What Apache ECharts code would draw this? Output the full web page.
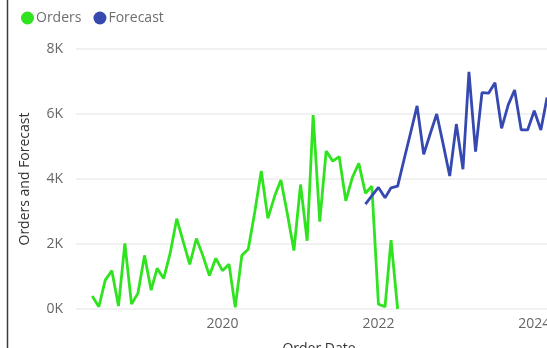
<!DOCTYPE html>
<html>
<head>
<meta charset="utf-8">
<script src="https://cdn.jsdelivr.net/npm/echarts@6/dist/echarts.min.js"></script>
<style>
  html, body { margin: 0; padding: 0; background: #ffffff; }
  #chart { width: 547px; height: 348px; }
</style>
</head>
<body>
<div id="chart"></div>
<script>
// Monthly order totals
const orderMonths = [
  '2018-05','2018-06','2018-07','2018-08','2018-09','2018-10','2018-11','2018-12',
  '2019-01','2019-02','2019-03','2019-04','2019-05','2019-06','2019-07','2019-08','2019-09','2019-10','2019-11','2019-12',
  '2020-01','2020-02','2020-03','2020-04','2020-05','2020-06','2020-07','2020-08','2020-09','2020-10','2020-11','2020-12',
  '2021-01','2021-02','2021-03','2021-04','2021-05','2021-06','2021-07','2021-08','2021-09','2021-10','2021-11','2021-12',
  '2022-01','2022-02','2022-03','2022-04'
];
const orderValues = [
  400, 70, 890, 1180, 90, 2020, 150, 480,
  1650, 580, 1250, 940, 1710, 2780, 2080, 1370, 2170, 1650, 1030, 1560,
  1180, 1380, 50, 1650, 1840, 3000, 4250, 2790, 3460, 3970, 2900, 1800,
  3830, 2100, 5970, 2690, 4860, 4550, 4690, 3330, 4050, 4480, 3560, 3780,
  150, 70, 2120, 0
];

// Forecast months and values
const forecastMonths = [
  '2021-11','2021-12',
  '2022-01','2022-02','2022-03','2022-04','2022-05','2022-06','2022-07','2022-08','2022-09','2022-10','2022-11','2022-12',
  '2023-01','2023-02','2023-03','2023-04','2023-05','2023-06','2023-07','2023-08','2023-09','2023-10','2023-11','2023-12',
  '2024-01','2024-02','2024-03'
];
const forecastValues = [
  3230, 3480,
  3740, 3420, 3730, 3780, 4600, 5430, 6250, 4760, 5400, 6000, 5050, 4090,
  5690, 4300, 7300, 4840, 6660, 6640, 6960, 5560, 6280, 6740, 5510, 5510,
  6100, 5510, 6510
];

// Value axis ticks and labelled years on the date axis
const yTicks = [0, 2000, 4000, 6000, 8000];
const yearLabels = [2020, 2022, 2024];

const FONT = '"Open Sans", "Segoe UI", sans-serif';
const TEXT = '#666666';

const chart = echarts.init(document.getElementById('chart'), null, { renderer: 'canvas' });

chart.setOption({
  animation: false,
  backgroundColor: '#ffffff',
  textStyle: { fontFamily: FONT },
  legend: {
    left: 21,
    top: 11,
    padding: 0,
    icon: 'circle',
    itemWidth: 13,
    itemHeight: 13,
    itemGap: 12,
    textStyle: { fontSize: 14, color: '#6e6e6e', fontFamily: FONT, padding: [0, 0, 0, -3] },
    data: ['Orders', 'Forecast']
  },
  grid: {
    left: 76, top: 49, bottom: 39, right: -15,
    containLabel: false,
    outerBoundsMode: 'none'
  },
  xAxis: {
    type: 'time',
    min: '2018-02-14',
    max: '2024-05-10',
    name: 'Order Date',
    nameLocation: 'middle',
    nameGap: 33,
    nameTextStyle: { fontSize: 14, color: '#333333', fontFamily: FONT },
    axisLine: { show: false },
    axisTick: { show: false },
    splitLine: { show: false },
    axisLabel: {
      fontSize: 14,
      color: TEXT,
      margin: 8,
      fontFamily: FONT,
      formatter: function (val) {
        const d = new Date(val);
        if (d.getMonth() === 0 && d.getDate() === 1 && yearLabels.indexOf(d.getFullYear()) >= 0) {
          return String(d.getFullYear());
        }
        return '';
      }
    }
  },
  yAxis: {
    type: 'value',
    min: yTicks[0],
    max: yTicks[yTicks.length - 1],
    interval: yTicks[1] - yTicks[0],
    name: 'Orders and Forecast',
    nameLocation: 'middle',
    nameGap: 44,
    nameTextStyle: { fontSize: 14, color: '#333333', fontFamily: FONT },
    axisLine: { show: false },
    axisTick: { show: false },
    splitLine: { show: true, lineStyle: { color: '#ececec', width: 1.5 } },
    axisLabel: {
      fontSize: 14,
      color: TEXT,
      margin: 13,
      fontFamily: FONT,
      formatter: function (v) { return (v / 1000) + 'K'; }
    }
  },
  graphic: [
    {
      type: 'line',
      shape: { x1: 7.5, y1: 0, x2: 7.5, y2: 348 },
      style: { stroke: '#3a3a3a', lineWidth: 1.5 },
      z: 10
    }
  ],
  series: [
    {
      name: 'Orders',
      type: 'line',
      showSymbol: false,
      symbol: 'circle',
      color: '#2fe31e',
      lineStyle: { width: 2.8, color: '#2fe31e' },
      data: orderMonths.map((m, i) => [m, orderValues[i]])
    },
    {
      name: 'Forecast',
      type: 'line',
      showSymbol: false,
      symbol: 'circle',
      color: '#3549b0',
      lineStyle: { width: 2.8, color: '#3549b0' },
      data: forecastMonths.map((m, i) => [m, forecastValues[i]])
    }
  ]
});
</script>
</body>
</html>
